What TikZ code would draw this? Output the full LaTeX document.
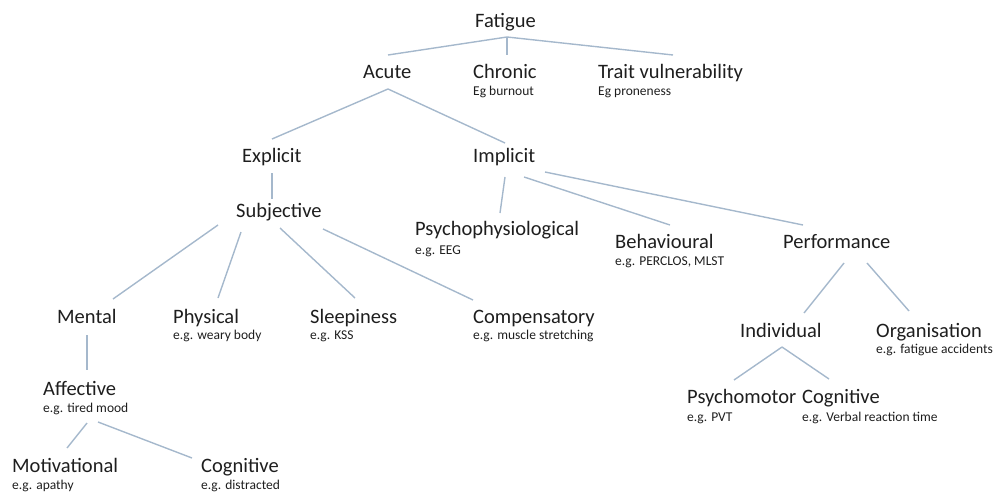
\documentclass[tikz,border=0pt]{standalone}
\usepackage{fontspec}
\setmainfont{Carlito}
\definecolor{linkc}{RGB}{165,184,204}
\definecolor{txt}{RGB}{30,30,30}
\tikzset{
  main/.style={anchor=base west,inner sep=0pt,text=txt,font=\fontsize{20.5}{24}\selectfont},
  sub/.style={anchor=base west,inner sep=0pt,text=txt,font=\fontsize{13.5}{16}\selectfont},
  link/.style={draw=linkc,line width=1.4pt},
}
\begin{document}
\begin{tikzpicture}[x=1pt,y=-1pt]
\useasboundingbox (0,0) rectangle (995,492);
% text nodes
\node[main] (fatigue) at (475,28) {Fatigue};
\node[main] (acute) at (363,79) {Acute};
\node[main] (chronic) at (473,79) {Chronic};
\node[sub] (chronicEg) at (473,96) {Eg burnout};
\node[main] (trait) at (598,79) {Trait vulnerability};
\node[sub] (traitEg) at (598,96) {Eg proneness};
\node[main] (explicit) at (242,162) {Explicit};
\node[main] (implicit) at (473,162) {Implicit};
\node[main] (subjective) at (236,217) {Subjective};
\node[main] (psycho) at (415,235) {Psychophysiological};
\node[sub] (psychoEg) at (415,254) {e.g. EEG};
\node[main] (behav) at (615,248) {Behavioural};
\node[sub] (behavEg) at (615,265) {e.g. PERCLOS, MLST};
\node[main] (perf) at (783,248) {Performance};
\node[main] (mental) at (57,323) {Mental};
\node[main] (physical) at (173,323) {Physical};
\node[sub] (physicalEg) at (173,339) {e.g. weary body};
\node[main] (sleep) at (310,323) {Sleepiness};
\node[sub] (sleepEg) at (310,339) {e.g. KSS};
\node[main] (comp) at (473,323) {Compensatory};
\node[sub] (compEg) at (473,339) {e.g. muscle stretching};
\node[main] (individual) at (740,337) {Individual};
\node[main] (org) at (876,337) {Organisation};
\node[sub] (orgEg) at (876,353) {e.g. fatigue accidents};
\node[main] (affective) at (43,395) {Affective};
\node[sub] (affectiveEg) at (43,412) {e.g. tired mood};
\node[main] (psychomotor) at (687,403) {Psychomotor};
\node[sub] (psychomotorEg) at (687,421) {e.g. PVT};
\node[main] (cogR) at (802,403) {Cognitive};
\node[sub] (cogREg) at (802,421) {e.g. Verbal reaction time};
\node[main] (motiv) at (12,472) {Motivational};
\node[sub] (motivEg) at (12,489) {e.g. apathy};
\node[main] (cogL) at (201,472) {Cognitive};
\node[sub] (cogLEg) at (201,489) {e.g. distracted};
% connector end points
\coordinate (fatigueB) at (507,37);
\coordinate (acuteT) at (388,55);
\coordinate (chronicT) at (507,55);
\coordinate (traitT) at (673,55);
\coordinate (acuteB) at (388,89);
\coordinate (explicitT) at (272,139);
\coordinate (implicitT) at (505,143);
\coordinate (explicitB) at (272,173);
\coordinate (subjectiveT) at (272,199);
\coordinate (implicitB1) at (505,177);
\coordinate (psychoT) at (500,213);
\coordinate (implicitB2) at (524,177);
\coordinate (behavT) at (670,225);
\coordinate (implicitB3) at (545,172);
\coordinate (perfT) at (803,225);
\coordinate (subjB1) at (218,225);
\coordinate (mentalT) at (113,299);
\coordinate (subjB2) at (241,232);
\coordinate (physicalT) at (218,298);
\coordinate (subjB3) at (280,228);
\coordinate (sleepT) at (355,298);
\coordinate (subjB4) at (323,229);
\coordinate (compT) at (473,300);
\coordinate (mentalB) at (87,335);
\coordinate (affectiveT) at (87,370);
\coordinate (affB1) at (87,423);
\coordinate (motivT) at (67,448);
\coordinate (affB2) at (98,422);
\coordinate (cogLT) at (192,458);
\coordinate (perfB1) at (844,263);
\coordinate (individualT) at (804,313);
\coordinate (perfB2) at (867,263);
\coordinate (orgT) at (909,311);
\coordinate (indivB) at (782,347);
\coordinate (psychomotorT) at (734,380);
\coordinate (cogRT) at (829,379);
% connectors
\draw[link] (fatigueB) -- (acuteT);
\draw[link] (fatigueB) -- (chronicT);
\draw[link] (fatigueB) -- (traitT);
\draw[link] (acuteB) -- (explicitT);
\draw[link] (acuteB) -- (implicitT);
\draw[link] (explicitB) -- (subjectiveT);
\draw[link] (implicitB1) -- (psychoT);
\draw[link] (implicitB2) -- (behavT);
\draw[link] (implicitB3) -- (perfT);
\draw[link] (subjB1) -- (mentalT);
\draw[link] (subjB2) -- (physicalT);
\draw[link] (subjB3) -- (sleepT);
\draw[link] (subjB4) -- (compT);
\draw[link] (mentalB) -- (affectiveT);
\draw[link] (affB1) -- (motivT);
\draw[link] (affB2) -- (cogLT);
\draw[link] (perfB1) -- (individualT);
\draw[link] (perfB2) -- (orgT);
\draw[link] (indivB) -- (psychomotorT);
\draw[link] (indivB) -- (cogRT);
\end{tikzpicture}
\end{document}
